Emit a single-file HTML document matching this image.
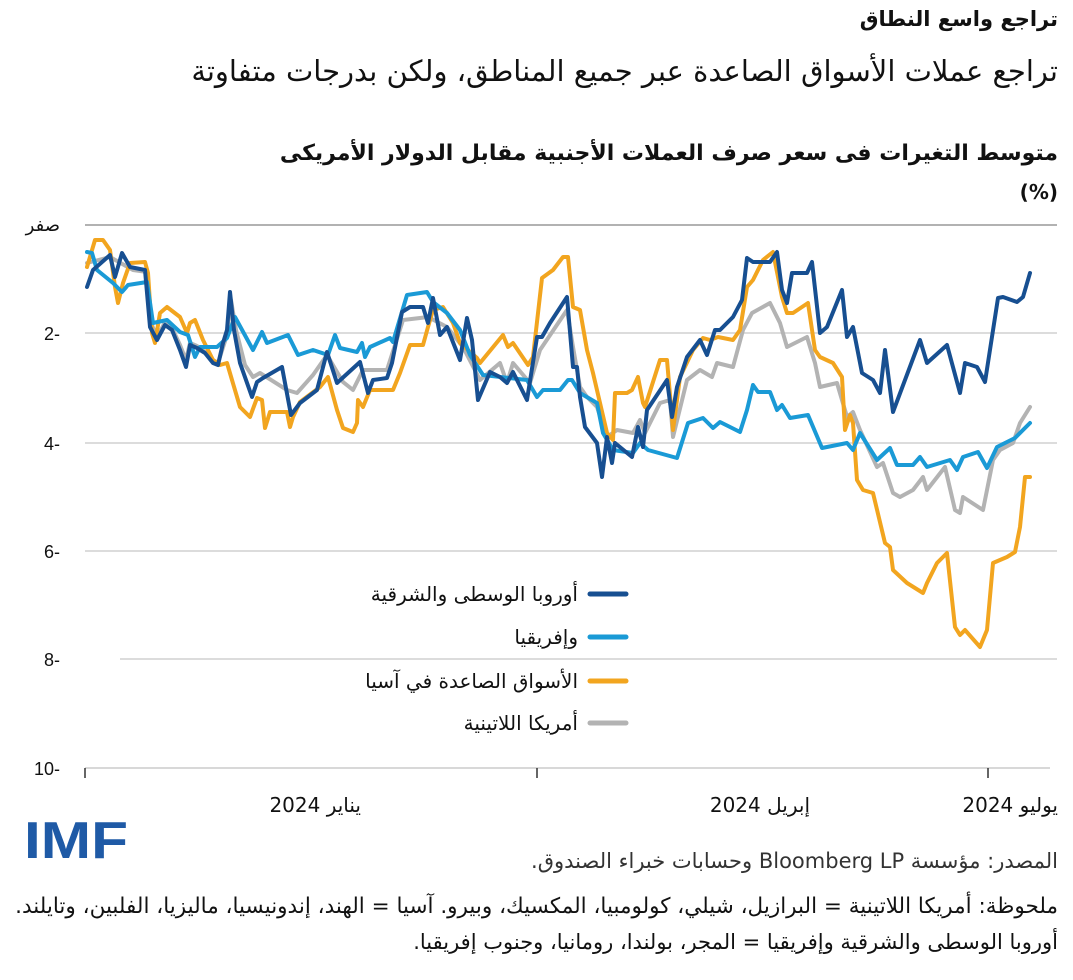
<!DOCTYPE html>
<html><head><meta charset="utf-8">
<style>
body{margin:0;background:#fff;width:1073px;height:980px;overflow:hidden;position:relative;font-family:"DejaVu Sans","Liberation Sans",sans-serif;color:#111}
.t{position:absolute;right:15px;direction:rtl;white-space:nowrap;line-height:1}
.l{position:absolute;direction:rtl;white-space:nowrap;line-height:1;font-size:20px}
</style></head><body>
<div class="t" style="top:9px;font-size:21px;font-weight:bold">تراجع واسع النطاق</div>
<div class="t" style="top:57px;font-size:29px">تراجع عملات الأسواق الصاعدة عبر جميع المناطق، ولكن بدرجات متفاوتة</div>
<div class="t" style="top:143px;font-size:22px;font-weight:bold">متوسط التغيرات فى سعر صرف العملات الأجنبية مقابل الدولار الأمريكى</div>
<div class="t" style="top:182px;font-size:20px;font-weight:bold;direction:ltr">(%)</div>
<svg width="1073" height="980" style="position:absolute;left:0;top:0" font-family="Liberation Sans, DejaVu Sans, sans-serif">
<g stroke="#d0d0d0" stroke-width="1.5">
<line x1="85" y1="225" x2="1057" y2="225" stroke="#999"/>
<line x1="85" y1="333" x2="1057" y2="333"/>
<line x1="85" y1="443" x2="1057" y2="443"/>
<line x1="85" y1="551" x2="1057" y2="551"/>
<line x1="120" y1="659" x2="1057" y2="659"/>
</g>
<line x1="85" y1="768" x2="1050" y2="768" stroke="#ccc" stroke-width="1.5"/>
<g stroke="#333" stroke-width="1.5"><line x1="85" y1="768" x2="85" y2="778"/><line x1="537" y1="768" x2="537" y2="778"/><line x1="988" y1="768" x2="988" y2="778"/></g>
<g font-size="18" fill="#111" text-anchor="end">
<text x="60" y="231" font-family="DejaVu Sans">صفر</text>
<text x="60" y="340">2-</text><text x="60" y="450">4-</text><text x="60" y="558">6-</text><text x="60" y="666">8-</text><text x="60" y="775">10-</text>
</g>
<g fill="none" stroke-width="4" stroke-linejoin="round" stroke-linecap="round">
<polyline stroke="#b3b3b3" points="87,263 110,257 133,270 147,272 150,320 157,338 165,322 172,328 180,345 186,360 190,343 197,346 205,352 213,360 218,363 227,335 231,300 236,330 245,365 253,377 260,373 287,390 297,393 313,375 327,355 343,382 353,390 363,370 387,370 403,320 420,318 428,317 447,327 463,347 480,380 500,363 507,383 513,363 530,383 540,350 567,310 573,347 580,387 587,397 597,407 607,437 617,430 633,433 640,420 645,433 660,403 670,400 673,437 687,380 700,370 712,377 717,363 733,367 743,330 752,313 770,303 780,323 787,347 807,337 815,363 820,387 837,383 847,417 853,412 860,430 877,467 883,463 893,493 900,497 913,490 923,477 927,490 945,467 955,510 960,513 963,497 983,510 993,460 1000,450 1013,443 1020,423 1030,407"/>
<polyline stroke="#f2a51f" points="87,267 95,240 103,240 110,250 115,287 118,303 123,283 130,263 145,262 148,273 152,333 155,343 160,313 167,307 180,317 187,333 190,323 195,320 203,340 213,360 220,365 227,363 232,380 240,407 250,417 257,398 262,400 265,428 270,412 287,412 290,427 293,417 300,402 320,387 328,377 337,410 343,428 353,432 357,423 358,400 363,407 370,390 393,390 400,373 410,345 423,345 428,327 433,310 443,307 453,323 460,343 477,358 480,363 503,335 508,347 513,343 528,365 533,357 542,278 553,270 563,257 568,257 573,307 580,310 587,350 593,373 600,403 607,433 613,440 615,393 627,393 632,390 638,377 643,403 645,407 660,360 667,360 673,430 680,377 693,350 703,338 710,340 718,337 733,340 740,330 747,287 753,280 763,260 773,252 782,297 787,313 793,313 808,303 815,350 820,357 833,363 842,377 845,430 850,415 853,423 857,480 863,490 873,493 885,543 890,547 893,570 907,583 923,593 927,583 937,563 947,553 955,627 960,635 965,630 980,647 987,630 993,563 1007,557 1015,552 1020,527 1025,477 1030,477"/>
<polyline stroke="#1a9ad6" points="87,252 92,253 97,270 113,283 122,292 128,285 147,282 153,323 167,320 180,332 188,335 195,357 200,347 217,347 227,338 235,317 253,350 262,332 267,343 288,335 298,355 313,350 328,355 335,335 340,348 357,352 362,343 365,357 370,347 390,338 393,342 407,295 427,292 433,302 447,313 460,330 470,355 483,375 527,380 537,397 543,390 560,390 568,380 572,380 580,393 597,403 603,433 613,450 633,453 640,443 648,450 677,458 688,423 703,418 713,428 720,422 740,432 747,410 753,385 758,392 770,392 777,410 782,405 790,418 808,415 822,448 847,443 853,450 860,433 877,460 890,448 897,465 913,465 920,457 927,467 950,460 957,470 963,457 978,452 987,468 997,447 1015,438 1030,423"/>
<polyline stroke="#174f91" points="87,287 93,270 110,255 115,277 122,253 130,267 145,270 150,327 157,340 165,325 172,330 180,350 186,367 190,345 197,348 205,353 213,363 218,365 223,343 227,330 230,292 234,330 240,363 252,397 257,382 263,378 282,367 291,415 300,403 317,390 327,352 337,383 360,362 368,393 373,380 387,378 392,363 402,312 410,307 423,307 428,323 433,298 440,335 447,327 460,360 467,318 472,340 478,400 490,372 500,377 507,383 513,372 527,400 537,337 542,337 550,323 567,297 573,367 577,367 580,397 585,427 597,443 602,477 607,437 612,463 615,443 632,457 638,427 643,447 647,410 667,380 672,417 677,387 687,357 700,340 707,355 715,330 720,330 733,317 742,300 747,258 753,262 770,262 777,252 782,290 787,303 792,273 807,273 812,262 820,333 827,327 842,290 847,337 853,327 862,373 873,380 880,393 885,350 893,412 920,340 927,363 947,345 960,393 965,363 977,367 985,382 998,298 1003,297 1017,302 1023,297 1030,273"/>
</g>
<g stroke-width="5" stroke-linecap="round">
<line x1="590" y1="594" x2="626" y2="594" stroke="#174f91"/>
<line x1="590" y1="637" x2="626" y2="637" stroke="#1a9ad6"/>
<line x1="590" y1="681" x2="626" y2="681" stroke="#f2a51f"/>
<line x1="590" y1="723" x2="626" y2="723" stroke="#b3b3b3"/>
</g>
<text x="24" y="858" font-size="52" font-weight="bold" fill="#1f5aa6" font-family="Liberation Sans" textLength="104" lengthAdjust="spacingAndGlyphs">IMF</text>
</svg>
<div class="l" style="right:495px;top:584px">أوروبا الوسطى والشرقية</div>
<div class="l" style="right:495px;top:627px">وإفريقيا</div>
<div class="l" style="right:495px;top:671px">الأسواق الصاعدة في آسيا</div>
<div class="l" style="right:495px;top:713px">أمريكا اللاتينية</div>
<div class="l" style="right:712px;top:795px">يناير 2024</div>
<div class="l" style="right:263px;top:795px">إبريل 2024</div>
<div class="l" style="right:15px;top:795px">يوليو 2024</div>
<div class="t" style="top:851px;font-size:21px;color:#333">المصدر: مؤسسة Bloomberg LP وحسابات خبراء الصندوق.</div>
<div class="t" style="top:896px;font-size:21.5px">ملحوظة: أمريكا اللاتينية = البرازيل، شيلي، كولومبيا، المكسيك، وبيرو. آسيا = الهند، إندونيسيا، ماليزيا، الفلبين، وتايلند.</div>
<div class="t" style="top:932px;font-size:21px">أوروبا الوسطى والشرقية وإفريقيا = المجر، بولندا، رومانيا، وجنوب إفريقيا.</div>
</body></html>
